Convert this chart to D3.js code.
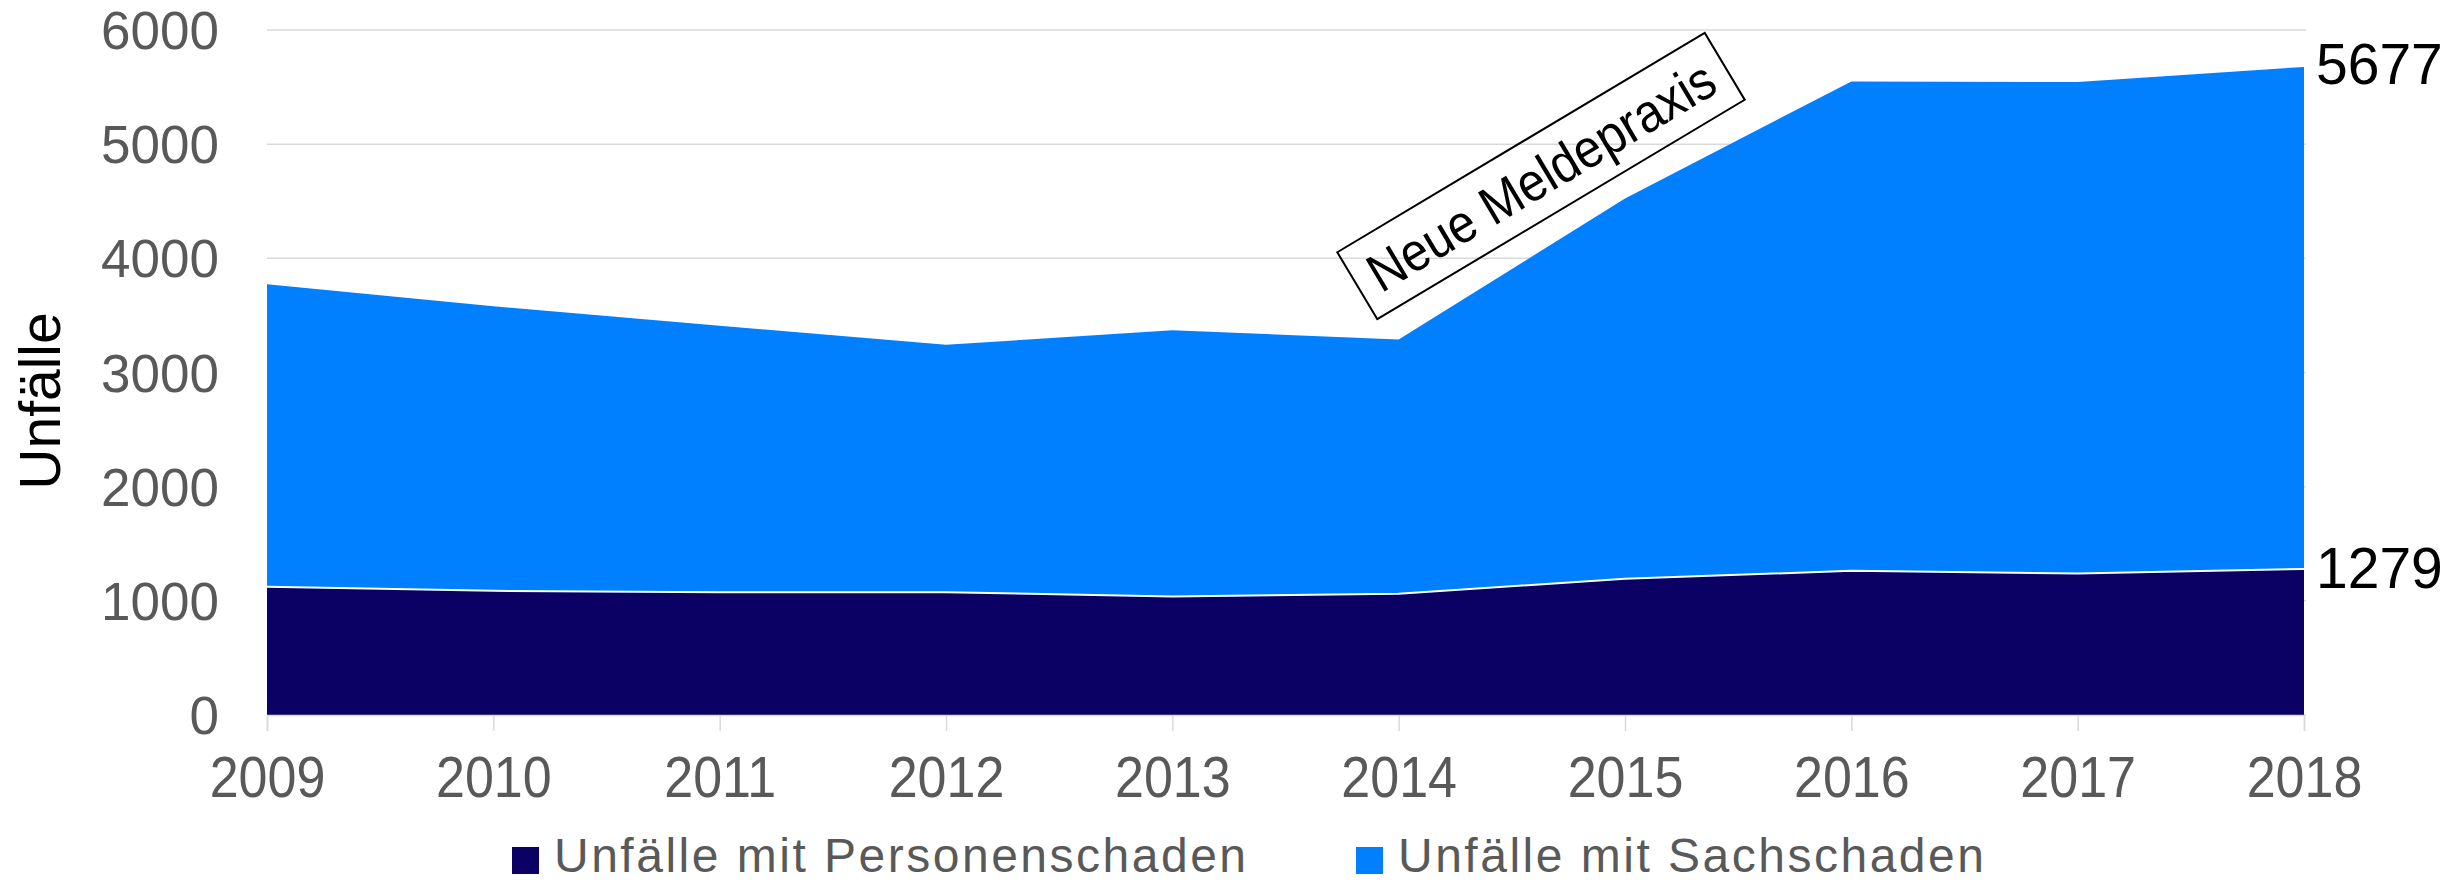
<!DOCTYPE html>
<html>
<head>
<meta charset="utf-8">
<script src="https://cdn.jsdelivr.net/npm/d3@7"></script>
<style>
  body { margin: 0; background: #fff; }
  text { font-family: "Liberation Sans", Arial, sans-serif; }
</style>
</head>
<body>
<div id="chart"></div>
<script>
// data
const years = [2009, 2010, 2011, 2012, 2013, 2014, 2015, 2016, 2017, 2018];
const personenschaden = [1124, 1088, 1075, 1075, 1038, 1062, 1193, 1263, 1239, 1279];
const sachschaden = [2648, 2492, 2335, 2168, 2332, 2227, 3331, 4287, 4305, 4398];
const yTicks = [0, 1000, 2000, 3000, 4000, 5000, 6000];
const seriesNames = ["Unfälle mit Personenschaden", "Unfälle mit Sachschaden"];
const seriesColors = ["#0b0064", "#0080ff"];

const W = 2463, H = 883;
const margin = {left: 267, right: 2304, top: 30, bottom: 715};

let rows = years.map(function(yr, i) {
  return {year: yr, p: personenschaden[i], s: sachschaden[i]};
});

let svg = d3.select("#chart")
  .append("svg")
  .attr("width", W)
  .attr("height", H);

let x = d3.scalePoint()
  .domain(years)
  .range([margin.left, margin.right]);

let y = d3.scaleLinear()
  .domain([0, 6000])
  .range([margin.bottom, margin.top]);

// gridlines
svg.append("g")
  .selectAll("line")
  .data(yTicks)
  .enter()
  .append("line")
  .attr("x1", margin.left)
  .attr("x2", margin.right + 2)
  .attr("y1", d => y(d))
  .attr("y2", d => y(d))
  .attr("stroke", "#d9d9d9")
  .attr("stroke-width", 1.5);

// stacked areas
let stack = d3.stack().keys(["p", "s"]);
let layers = stack(rows);

let area = d3.area()
  .x(d => x(d.data.year))
  .y0(d => y(d[0]))
  .y1(d => y(d[1]));

svg.append("g")
  .selectAll("path")
  .data(layers)
  .enter()
  .append("path")
  .attr("d", area)
  .attr("fill", (d, i) => seriesColors[i]);

// white edge between the two areas
svg.append("path")
  .datum(layers[0])
  .attr("d", d3.line().x(d => x(d.data.year)).y(d => y(d[1])))
  .attr("fill", "none")
  .attr("stroke", "#fff")
  .attr("stroke-width", 2);

// x axis
let xAxis = svg.append("g")
  .attr("transform", "translate(0," + margin.bottom + ")")
  .call(d3.axisBottom(x).tickSize(16));
xAxis.select(".domain").attr("stroke", "#d9d9d9").attr("stroke-width", 1.5);
xAxis.selectAll(".tick line").attr("stroke", "#d9d9d9").attr("stroke-width", 1.5);
xAxis.selectAll(".tick text")
  .attr("font-size", 52)
  .attr("fill", "#595959")
  .attr("font-family", "Liberation Sans, Arial, sans-serif")
  .attr("dy", 0)
  .attr("y", 0)
  .attr("transform", "translate(0,82) scale(1,1.09)");

// y axis labels
let yAxis = svg.append("g")
  .attr("transform", "translate(" + margin.left + ",0)")
  .call(d3.axisLeft(y).tickValues(yTicks).tickSize(0).tickPadding(48).tickFormat(d3.format("d")));
yAxis.select(".domain").remove();
yAxis.selectAll(".tick text")
  .attr("font-size", 53)
  .attr("fill", "#595959")
  .attr("font-family", "Liberation Sans, Arial, sans-serif")
  .attr("dy", "0.35em");

// y axis title
svg.append("text")
  .attr("transform", "translate(60,401) rotate(-90)")
  .attr("text-anchor", "middle")
  .attr("font-size", 57)
  .attr("fill", "#000")
  .text("Unfälle");

// end labels
let last = years.length - 1;
svg.append("text")
  .attr("x", margin.right + 12)
  .attr("y", y(personenschaden[last] + sachschaden[last]))
  .attr("dy", "0.3em")
  .attr("font-size", 57)
  .text(personenschaden[last] + sachschaden[last]);
svg.append("text")
  .attr("x", margin.right + 12)
  .attr("y", y(personenschaden[last]))
  .attr("dy", "0.33em")
  .attr("font-size", 57)
  .text(personenschaden[last]);

// annotation box
let note = svg.append("g")
  .attr("transform", "translate(1541,176) rotate(-30.85)");
note.append("rect")
  .attr("x", -214)
  .attr("y", -39)
  .attr("width", 428)
  .attr("height", 78)
  .attr("fill", "none")
  .attr("stroke", "#000")
  .attr("stroke-width", 2);
note.append("text")
  .attr("text-anchor", "middle")
  .attr("dy", "0.35em")
  .attr("font-size", 49)
  .attr("fill", "#000")
  .attr("transform", "scale(1,1.1)")
  .text("Neue Meldepraxis");

// legend
let legendX = [512, 1356];
let legend = svg.append("g");
seriesNames.forEach(function(name, i) {
  legend.append("rect")
    .attr("x", legendX[i])
    .attr("y", 847)
    .attr("width", 27)
    .attr("height", 27)
    .attr("fill", seriesColors[i]);
  legend.append("text")
    .attr("x", legendX[i] + 42)
    .attr("y", 872)
    .attr("font-size", 48)
    .attr("letter-spacing", "2.5px")
    .attr("fill", "#595959")
    .text(name);
});
</script>
</body>
</html>
